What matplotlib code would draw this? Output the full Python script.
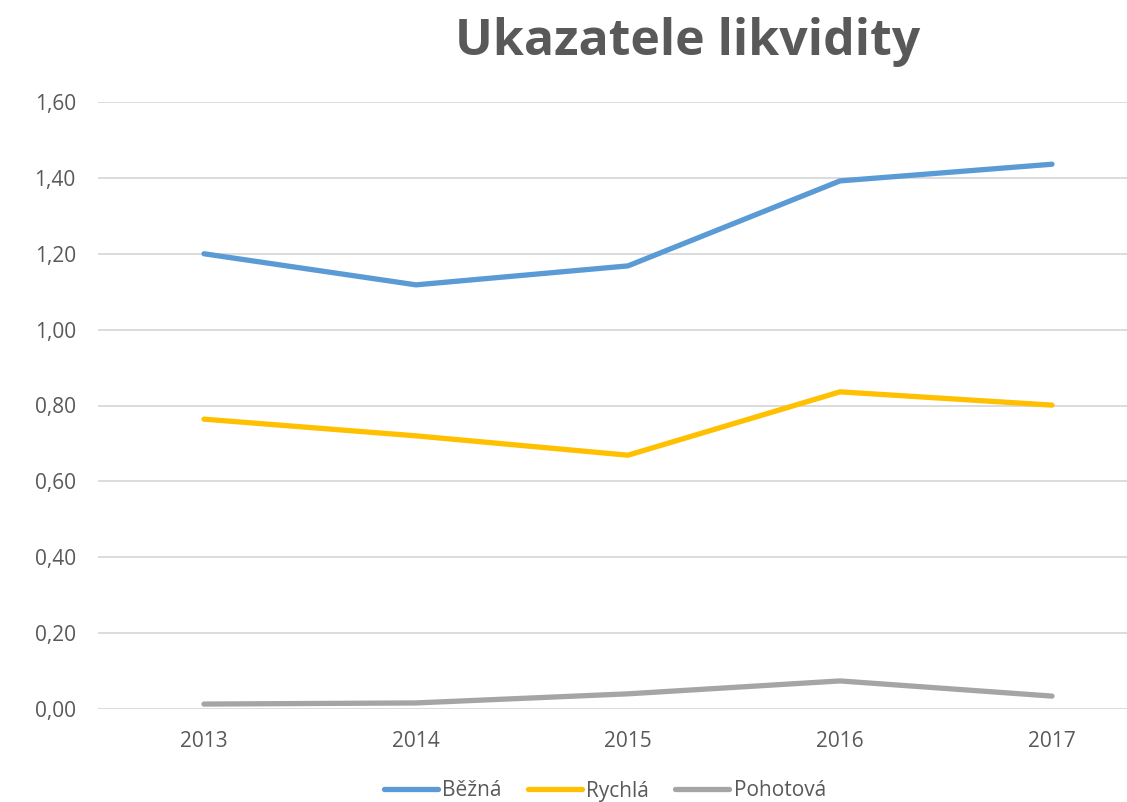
import matplotlib
matplotlib.use('Agg')
import matplotlib.pyplot as plt

years = ['2013', '2014', '2015', '2016', '2017']
bezna = [1.20, 1.118, 1.168, 1.392, 1.436]
rychla = [0.764, 0.720, 0.669, 0.836, 0.801]
pohotova = [0.013, 0.016, 0.040, 0.074, 0.034]

plt.rcParams['font.family'] = ['Open Sans', 'DejaVu Sans']
txt = '#595959'

fig = plt.figure(figsize=(11.27, 8.02), dpi=100)
ax = fig.add_axes([98 / 1127, 93 / 802, 1060 / 1127, 607 / 802])

x = range(len(years))
ax.plot(x, bezna, color='#5B9BD5', lw=3.8, solid_capstyle='round', label='Běžná')
ax.plot(x, rychla, color='#FFC000', lw=3.8, solid_capstyle='round', label='Rychlá')
ax.plot(x, pohotova, color='#A5A5A5', lw=3.8, solid_capstyle='round', label='Pohotová')

ax.set_xlim(-0.5, 4.5)
ax.set_ylim(0, 1.6)
ax.set_xticks(list(x))
ax.set_xticklabels(years)
yt = [i * 0.2 for i in range(9)]
ax.set_yticks(yt)
ax.set_yticklabels([('%.2f' % v).replace('.', ',') for v in yt])
ax.tick_params(length=0, labelsize=15, labelcolor=txt)
ax.tick_params(axis='y', pad=16)
ax.tick_params(axis='x', pad=16)
ax.grid(axis='y', color='#D9D9D9', lw=1.3)
ax.set_axisbelow(True)
for s in ax.spines.values():
    s.set_visible(False)

fig.text(688 / 1127, 1 - 42 / 802, 'Ukazatele likvidity', ha='center', va='center',
         fontsize=36, fontweight='bold', color=txt)

# legend kept just inside the bottom edge
fig.legend(loc='center', bbox_to_anchor=(605 / 1127, 1 - 791 / 802), ncol=3,
           frameon=False, fontsize=15, labelcolor=txt, handlelength=2.6,
           handletextpad=0.2, columnspacing=1.25)

fig.savefig('out.png', dpi=100)
